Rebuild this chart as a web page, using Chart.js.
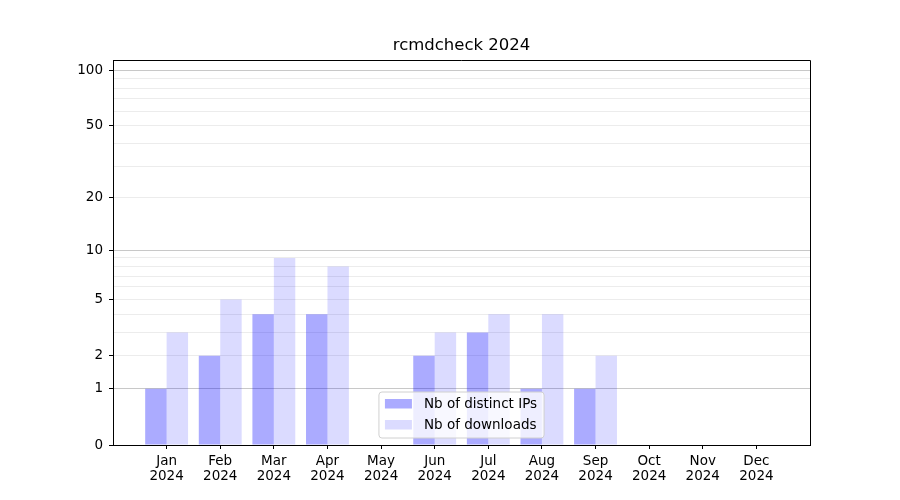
<!DOCTYPE html>
<html>
<head>
<meta charset="utf-8">
<script src="https://cdn.jsdelivr.net/npm/chart.js@4/dist/chart.umd.min.js"></script>
<style>
  html, body { margin: 0; padding: 0; background: #fff; }
  #wrap { width: 900px; height: 500px; }
</style>
</head>
<body>
<div id="wrap"><canvas id="chart" width="900" height="500"></canvas></div>
<script>
const MONTHS = ['Jan','Feb','Mar','Apr','May','Jun','Jul','Aug','Sep','Oct','Nov','Dec'];
const YEAR = '2024';
const TITLE = 'rcmdcheck 2024';
const distinctIps = [1, 2, 4, 4, 0, 2, 3, 1, 1, 0, 0, 0];
const downloads  = [3, 5, 9, 8, 0, 3, 4, 4, 2, 0, 0, 0];

// y axis is log10(1 + x)
const Y_TICKS = [0, 1, 2, 3, 4, 5, 6, 7, 8, 9, 10, 20, 30, 40, 50, 60, 70, 80, 90, 100];
const Y_LABELLED = [0, 1, 2, 5, 10, 20, 50, 100];
const Y_MAJOR = [1, 10, 100];
const Y_MAX_RAW = 113.5;

const FONT = '"DejaVu Sans", sans-serif';
const tf = v => Math.log10(1 + v);
const toPoints = arr => arr.map((v, i) => ({ x: i, y: tf(v) }));

// matplotlib-ish title, frame and in-axes legend
const framePlugin = {
    id: 'frame',
    afterDatasetsDraw(chart) {
        const { ctx, chartArea: a } = chart;
        ctx.save();

        // title centred over the axes
        ctx.font = '16.5px ' + FONT;
        ctx.fillStyle = '#000';
        ctx.textAlign = 'center';
        ctx.textBaseline = 'middle';
        ctx.fillText(TITLE, (a.left + a.right) / 2, 46);

        // legend, lower centre
        ctx.font = '13.5px ' + FONT;
        const items = chart.data.datasets;
        const textW = Math.max(...items.map(d => ctx.measureText(d.label).width));
        const w = 6 + 27 + 12 + textW + 7;
        const h = 46;
        const x0 = (a.left + a.right) / 2 - w / 2;
        const y0 = a.bottom - 7 - h;
        ctx.beginPath();
        ctx.roundRect(x0, y0, w, h, 3);
        ctx.fillStyle = 'rgba(255,255,255,0.8)';
        ctx.fill();
        ctx.strokeStyle = '#d0d0d0';
        ctx.lineWidth = 1;
        ctx.stroke();
        items.forEach((d, i) => {
            const cy = y0 + 12 + i * 21;
            ctx.fillStyle = d.backgroundColor;
            ctx.fillRect(x0 + 6, cy - 5, 27, 9.5);
            ctx.fillStyle = '#000';
            ctx.textBaseline = 'middle';
            ctx.textAlign = 'left';
            ctx.fillText(d.label, x0 + 6 + 27 + 12, cy);
        });

        // top and right spines
        ctx.strokeStyle = '#000';
        ctx.lineWidth = 1;
        ctx.beginPath();
        ctx.moveTo(a.left, Math.round(a.top) + 0.5);
        ctx.lineTo(a.right + 0.5, Math.round(a.top) + 0.5);
        ctx.lineTo(a.right + 0.5, a.bottom);
        ctx.stroke();
        ctx.restore();
    }
};

new Chart(document.getElementById('chart').getContext('2d'), {
    type: 'bar',
    data: {
        datasets: [
            {
                label: 'Nb of distinct IPs',
                data: toPoints(distinctIps),
                backgroundColor: 'rgba(0,0,255,0.33)',
                borderWidth: 0,
                categoryPercentage: 0.8,
                barPercentage: 1.0,
            },
            {
                label: 'Nb of downloads',
                data: toPoints(downloads),
                backgroundColor: 'rgba(0,0,255,0.14)',
                borderWidth: 0,
                categoryPercentage: 0.8,
                barPercentage: 1.0,
            },
        ]
    },
    plugins: [framePlugin],
    options: {
        responsive: false,
        animation: false,
        layout: { padding: { left: 0, right: 90, top: 60, bottom: 0 } },
        plugins: {
            legend: { display: false },
            tooltip: { enabled: false },
            title: { display: false },
        },
        scales: {
            x: {
                type: 'linear',
                offset: false,
                min: -1,
                max: 12,
                afterBuildTicks: s => { s.ticks = MONTHS.map((m, i) => ({ value: i })); },
                afterFit: s => { s.height = 55; },
                ticks: {
                    autoSkip: false,
                    maxRotation: 0,
                    padding: 5,
                    color: '#000',
                    font: { family: FONT, size: 13.5, lineHeight: 1.12 },
                    callback: v => [MONTHS[v], YEAR],
                },
                grid: { offset: false, drawOnChartArea: false, drawTicks: true, tickLength: 4, tickColor: '#000' },
                border: { display: true, color: '#000', width: 1 },
            },
            y: {
                type: 'linear',
                min: 0,
                max: tf(Y_MAX_RAW),
                afterBuildTicks: s => { s.ticks = Y_TICKS.map(v => ({ value: tf(v) })); },
                afterFit: s => { s.width = 113; },
                ticks: {
                    autoSkip: false,
                    padding: 6,
                    color: '#000',
                    font: { family: FONT, size: 13.5 },
                    callback: (v, i) => Y_LABELLED.includes(Y_TICKS[i]) ? String(Y_TICKS[i]) : '',
                },
                grid: {
                    tickLength: 4,
                    color: c => Y_MAJOR.includes(Y_TICKS[c.index]) ? '#c8c8c8' : '#ececec',
                    tickColor: c => Y_LABELLED.includes(Y_TICKS[c.index]) ? '#000' : 'rgba(0,0,0,0)',
                },
                border: { display: true, color: '#000', width: 1 },
            }
        }
    }
});
</script>
</body>
</html>
